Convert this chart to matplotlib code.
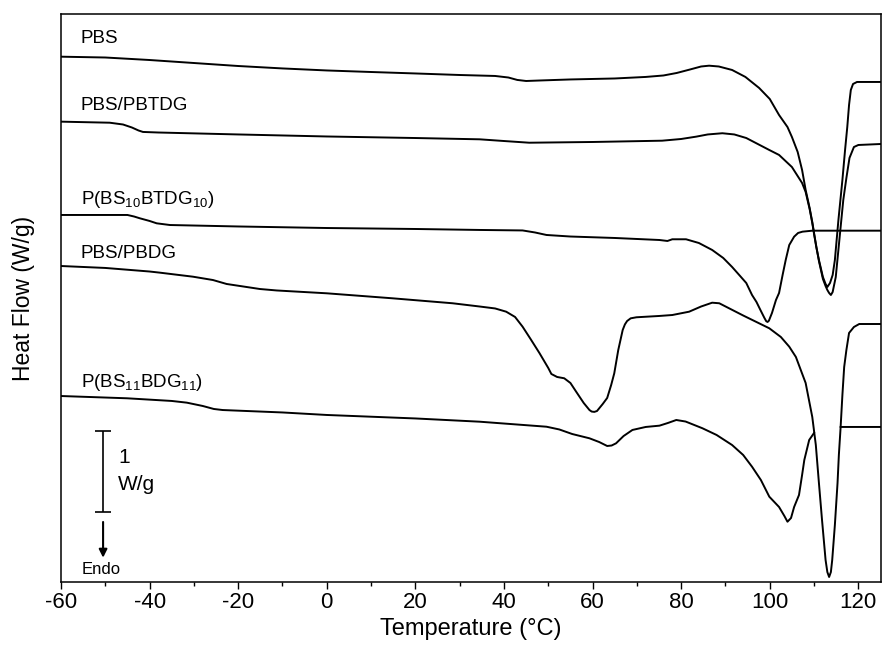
import numpy as np
import matplotlib
matplotlib.use("Agg")
import matplotlib.pyplot as plt

plt.rcParams['font.family'] = ['Liberation Sans', 'DejaVu Sans']
plt.rcParams['mathtext.fontset'] = 'custom'
plt.rcParams['mathtext.rm'] = 'Liberation Sans'
plt.rcParams['mathtext.default'] = 'regular'
plt.rcParams['axes.unicode_minus'] = False

# ---------------- data (temperature in °C, heat flow in W/g, curves offset) ----
pbs_T = [-60, -50, -40, -30, -20, -10, 0, 10, 20, 30, 38, 41, 43, 45, 48, 55, 65, 72,
         76, 79, 82, 84.5, 86.3, 88.5, 91.5, 94.5, 97.6, 100, 102.1, 104, 105, 106.3,
         107.3, 108.1, 109, 109.6, 110, 110.5, 111.1, 112, 112.6, 113.0, 113.6, 114.2,
         114.7, 115.5, 116.4, 117.0, 117.5, 117.9, 118.3, 118.8, 119.7, 125]
pbs_HF = [6.485, 6.475, 6.444, 6.407, 6.370, 6.340, 6.315, 6.296, 6.278, 6.259, 6.247,
          6.228, 6.198, 6.185, 6.191, 6.204, 6.216, 6.235, 6.253, 6.284, 6.327, 6.364,
          6.374, 6.364, 6.321, 6.235, 6.099, 5.963, 5.765, 5.617, 5.494, 5.309, 5.086,
          4.840, 4.617, 4.444, 4.309, 4.136, 3.975, 3.765, 3.679, 3.642, 3.691, 3.790,
          3.975, 4.469, 4.963, 5.333, 5.617, 5.889, 6.074, 6.148, 6.173, 6.173]

pbtdg_T = [-60, -49, -46, -44, -42.5, -41.5, -38, -20, 0, 20, 34.5, 40, 45.7, 60, 75.7,
           80, 83.4, 86, 89.3, 92, 94.7, 97.3, 99.9, 102.1, 105, 107.3, 108.1, 109,
           109.6, 110, 111.1, 112, 112.6, 113.0, 113.4, 113.8, 114.2, 114.9, 116.0,
           116.6, 117.3, 118.0, 119, 120, 125]
pbtdg_HF = [5.683, 5.670, 5.648, 5.611, 5.574, 5.556, 5.549, 5.525, 5.500, 5.481, 5.465,
            5.444, 5.423, 5.432, 5.448, 5.469, 5.498, 5.525, 5.540, 5.525, 5.481, 5.407,
            5.333, 5.272, 5.123, 4.926, 4.815, 4.605, 4.432, 4.296, 3.963, 3.741, 3.654,
            3.605, 3.568, 3.543, 3.580, 3.765, 4.383, 4.716, 4.988, 5.235, 5.370, 5.395,
            5.407]

bs10_T = [-60, -45, -43.5, -42.2, -40, -38.4, -35.4, -20, 0, 20, 34.5, 44.2, 47, 49.6,
          55, 65, 75.1, 76.9, 78, 81.1, 84, 87, 89.5, 91.5, 93.3, 94.7, 96, 97, 98,
          98.8, 99.2, 99.5, 99.8, 100.5, 101.4, 102.1, 102.9, 103.6, 104.4, 105.5, 106.4,
          107.4, 109.6, 125]
bs10_HF = [4.531, 4.531, 4.512, 4.490, 4.457, 4.428, 4.407, 4.389, 4.370, 4.358, 4.346,
           4.340, 4.315, 4.284, 4.265, 4.247, 4.222, 4.210, 4.231, 4.231, 4.185, 4.099,
           4.000, 3.889, 3.778, 3.691, 3.543, 3.457, 3.346, 3.259, 3.220, 3.210, 3.225,
           3.321, 3.481, 3.568, 3.790, 3.975, 4.160, 4.263, 4.309, 4.325, 4.337, 4.337]

pbdg_T = [-60, -50, -40, -37.7, -30.2, -25.7, -22.6, -20.3, -15.1, -11.3, 0, 14.9, 28.4,
          34.5, 38, 40.5, 42.5, 44.2, 46, 48, 50, 50.7, 52, 53.6, 55, 56.3, 58, 59.3, 59.8,
          60.4, 61, 62.3, 63.3, 64.2, 64.9, 65.8, 66.8, 67.3, 67.8, 68.6, 69.9, 75, 78,
          81.8, 84.5, 87, 88.6, 94, 99.9, 102.5, 104.4, 105.9, 108.1, 109.6, 110.4, 111.1,
          111.8, 112.6, 113.0, 113.4, 113.8, 114.1, 114.7, 115.3, 115.6, 116.0, 116.4,
          116.8, 117.3, 117.9, 119, 120.2, 125]
pbdg_HF = [3.901, 3.877, 3.833, 3.819, 3.769, 3.728, 3.679, 3.660, 3.617, 3.599, 3.564,
           3.502, 3.441, 3.401, 3.377, 3.337, 3.272, 3.152, 3.000, 2.827, 2.642, 2.568,
           2.531, 2.515, 2.457, 2.349, 2.210, 2.123, 2.104, 2.100, 2.111, 2.198, 2.272,
           2.432, 2.577, 2.864, 3.111, 3.180, 3.222, 3.255, 3.268, 3.284, 3.296, 3.337,
           3.401, 3.448, 3.441, 3.290, 3.132, 3.025, 2.905, 2.778, 2.457, 2.037, 1.691,
           1.222, 0.765, 0.272, 0.123, 0.062, 0.123, 0.272, 0.704, 1.222, 1.568, 1.914,
           2.309, 2.654, 2.864, 3.074, 3.148, 3.185, 3.185]

bs11_T = [-60, -45.1, -35, -31.6, -28, -25.5, -23.5, -10, 0, 20, 34.5, 49.6, 52.5, 55.4,
          59.3, 61.5, 63.3, 64.3, 65.3, 67, 69, 72, 75.1, 77, 78.9, 81, 84.8, 88, 91.5,
          94, 96, 98, 99.9, 102.1, 103.3, 104.0, 104.8, 105.5, 106.6, 107.3, 107.8,
          108.9, 110.0, np.nan, 116.0, 125]
bs11_HF = [2.296, 2.268, 2.235, 2.214, 2.173, 2.136, 2.123, 2.093, 2.062, 2.019, 1.979,
           1.917, 1.883, 1.827, 1.774, 1.728, 1.679, 1.685, 1.712, 1.802, 1.877, 1.914,
           1.930, 1.963, 2.000, 1.981, 1.898, 1.815, 1.691, 1.568, 1.423, 1.259, 1.053,
           0.926, 0.815, 0.744, 0.790, 0.926, 1.074, 1.321, 1.506, 1.753, 1.840, np.nan,
           1.914, 1.914]

series = [
    (pbs_T, pbs_HF, 'PBS', 6.654),
    (pbtdg_T, pbtdg_HF, 'PBS/PBTDG', 5.827),
    (bs10_T, bs10_HF, r'P(BS$_{10}$BTDG$_{10}$)', 4.667),
    (pbdg_T, pbdg_HF, 'PBS/PBDG', 3.996),
    (bs11_T, bs11_HF, r'P(BS$_{11}$BDG$_{11}$)', 2.411),
]

x_ticks = [-60, -40, -20, 0, 20, 40, 60, 80, 100, 120]

# ---------------- figure ----------------
fig = plt.figure(figsize=(8.82, 6.46), dpi=100)
ax = fig.add_axes([61 / 882, 1 - 582 / 646, (880.5 - 61) / 882, (582 - 14) / 646])

for T, HF, name, ytxt in series:
    ax.plot(T, HF, color='black', lw=1.4, solid_joinstyle='round')
    ax.text(-55.5, ytxt, name, fontsize=13.5, va='baseline', ha='left')

ax.set_xlim(-60, 125)
ax.set_ylim(0, 7.012)
ax.set_xticks(x_ticks)
ax.set_xticks(np.arange(-50, 125, 20), minor=True)
ax.set_yticks([])
ax.tick_params(axis='x', which='major', direction='out', length=5, width=1.0,
               labelsize=16, pad=2.5, top=False)
ax.tick_params(axis='x', which='minor', direction='out', length=3, width=1.0, top=False)
for s in ax.spines.values():
    s.set_linewidth(1.1)

ax.set_xlabel('Temperature (°C)', fontsize=17, labelpad=3)
ax.set_ylabel('Heat Flow (W/g)', fontsize=16.5, labelpad=19)

# scale bar 1 W/g
ax.errorbar([-50.5], [1.364], yerr=[0.5], fmt='none', ecolor='black',
            elinewidth=1.2, capsize=5.5, capthick=1.2)
ax.text(-47.1, 1.543, '1', fontsize=15, va='center', ha='left')
ax.text(-47.1, 1.198, 'W/g', fontsize=15, va='center', ha='left')

# Endo arrow
ax.annotate('', xy=(-50.5, 0.30), xytext=(-50.5, 0.741),
            arrowprops=dict(arrowstyle='-|>', color='black', lw=1.5,
                            mutation_scale=12, shrinkA=0, shrinkB=0))
ax.text(-55.3, 0.160, 'Endo', fontsize=12, va='center', ha='left')

fig.savefig('out.png', dpi=100)
